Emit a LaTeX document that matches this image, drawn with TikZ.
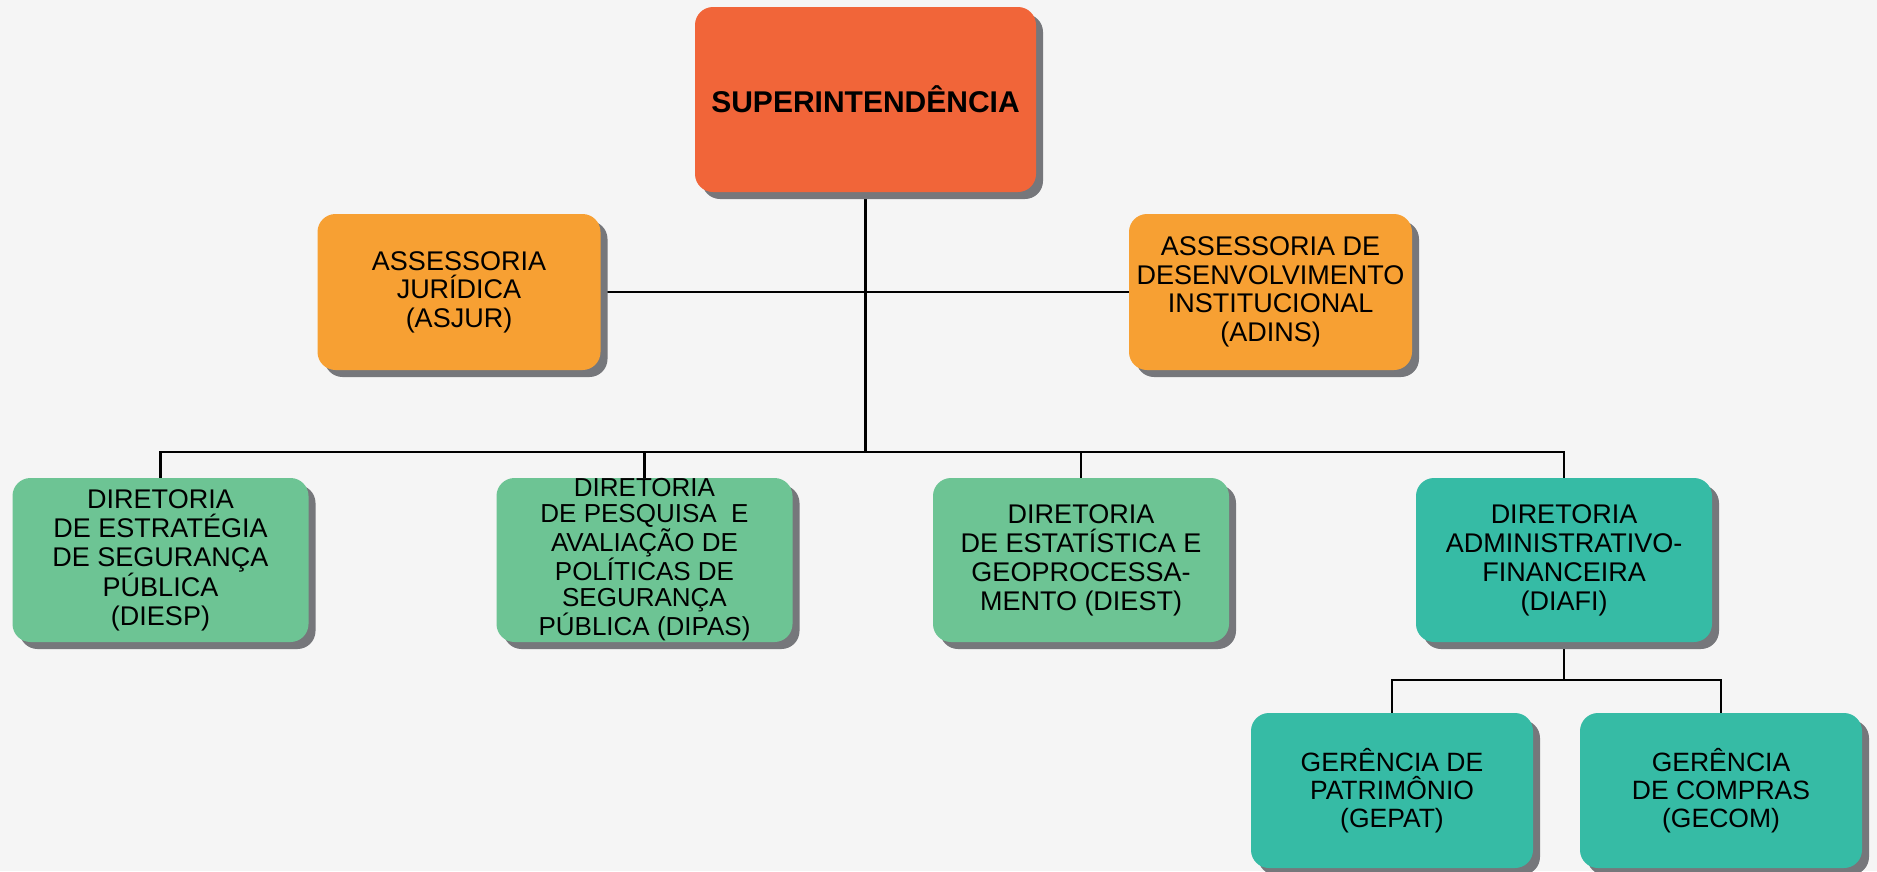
\documentclass[tikz,border=0pt]{standalone}
\usepackage{fontspec}
\setmainfont{Liberation Sans}
\pgfdeclarelayer{background}
\pgfsetlayers{background,main}
\definecolor{bgc}{RGB}{245,245,245}
\definecolor{supc}{RGB}{241,101,57}
\definecolor{assc}{RGB}{247,160,51}
\definecolor{dirc}{RGB}{109,196,148}
\definecolor{tealc}{RGB}{54,187,165}
\definecolor{shadc}{RGB}{118,119,123}
\tikzset{
  box/.style={rounded corners=18pt, inner sep=0pt, align=center,
    preaction={fill=shadc, transform canvas={xshift=7pt,yshift=-7pt}}},
  supbox/.style={box, fill=supc, minimum width=341pt, minimum height=185pt,
    font=\fontsize{30}{32}\selectfont\bfseries},
  assbox/.style={box, fill=assc, minimum width=283pt, minimum height=156pt,
    font=\fontsize{27}{28.5}\selectfont},
  dirbox/.style={box, fill=dirc, minimum width=296pt, minimum height=164pt,
    font=\fontsize{27}{29}\selectfont},
  tealbox/.style={box, fill=tealc, minimum width=296pt, minimum height=164pt,
    font=\fontsize{27}{29}\selectfont},
  gerbox/.style={box, fill=tealc, minimum width=282pt, minimum height=155pt,
    font=\fontsize{26.5}{28.3}\selectfont},
  conn/.style={line width=2.6pt, black}
}
\begin{document}
\begin{tikzpicture}[x=1pt,y=-1pt]
\useasboundingbox (0,0) rectangle (1877,871);

\node[supbox] (sup) at (865.5,99.5) {SUPERINTENDÊNCIA};
\node[assbox] (asjur) at (459,292) {ASSESSORIA\\JURÍDICA\\(ASJUR)};
\node[assbox] (adins) at (1270.5,292) {ASSESSORIA DE\\DESENVOLVIMENTO\\INSTITUCIONAL\\(ADINS)};

\node[dirbox] (diesp) at (160.5,560) {DIRETORIA\\DE ESTRATÉGIA\\DE SEGURANÇA\\PÚBLICA\\(DIESP)};
\node[dirbox, font=\fontsize{26}{26}\selectfont] (dipas) at (644.5,560) {DIRETORIA\\DE PESQUISA\ \ E\\AVALIAÇÃO DE\\POLÍTICAS DE\\SEGURANÇA\\PÚBLICA (DIPAS)};
\node[dirbox] (diest) at (1081,560) {DIRETORIA\\DE ESTATÍSTICA E\\GEOPROCESSA-\\MENTO (DIEST)};
\node[tealbox] (diafi) at (1564,560) {DIRETORIA\\ADMINISTRATIVO-\\FINANCEIRA\\(DIAFI)};

\node[gerbox] (gepat) at (1392,790.5) {GERÊNCIA DE\\PATRIMÔNIO\\(GEPAT)};
\node[gerbox] (gecom) at (1721,790.5) {GERÊNCIA\\DE COMPRAS\\(GECOM)};

\coordinate (bus) at (865.5,452);
\coordinate (sub) at (1564,680);

\begin{pgfonlayer}{background}
\fill[bgc] (0,0) rectangle (1877,871);
\draw[conn] (sup.south) -- (bus);
\draw[conn] (asjur.east) -- (adins.west);
\draw[conn] (diesp.north) |- (bus) -| (diafi.north);
\draw[conn] (dipas.north) -- (dipas.north |- bus);
\draw[conn] (diest.north) -- (diest.north |- bus);
\draw[conn] (diafi.south) -- (sub);
\draw[conn] (gepat.north) |- (sub) -| (gecom.north);
\end{pgfonlayer}
\end{tikzpicture}
\end{document}
